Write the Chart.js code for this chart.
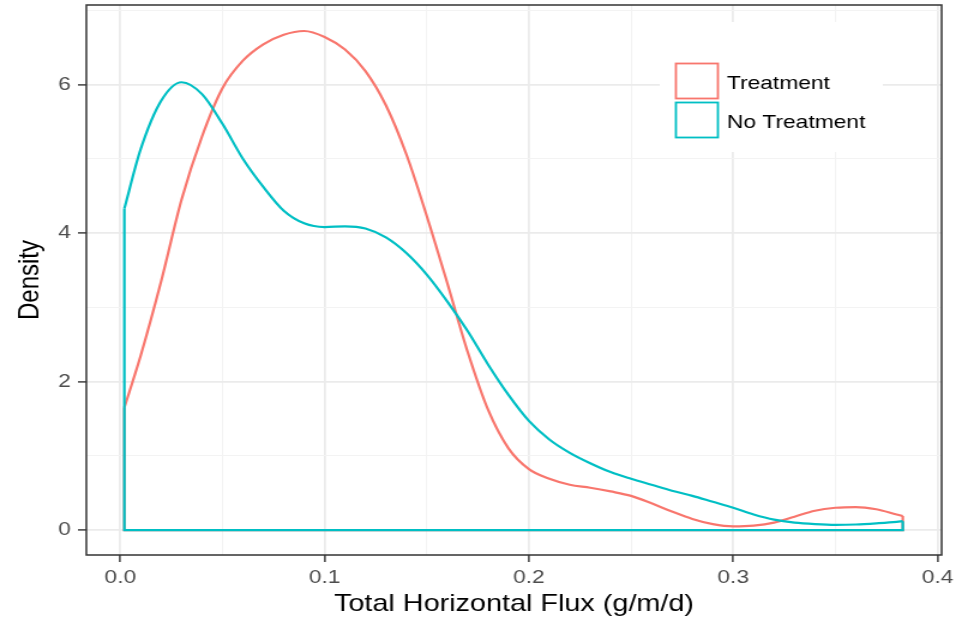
<!DOCTYPE html>
<html>
<head>
<meta charset="utf-8">
<title>Density</title>
<script src="https://cdn.jsdelivr.net/npm/chart.js@4.4.0/dist/chart.umd.min.js"></script>
<style>
  html, body { margin: 0; padding: 0; background: #fff; overflow: hidden; }
  /* the reference is stretched sideways, so draw narrow and scale it out */
  #wrap { width: 797px; height: 620px; transform: scaleX(1.1995); transform-origin: 0 0; }
</style>
</head>
<body>
<div id="wrap"><canvas id="density-chart" width="797" height="620"></canvas></div>
<script>
// evaluation points of the density curves (g/m/d)
let fluxX = [0.002, 0.01, 0.02, 0.03, 0.04, 0.05, 0.06, 0.07, 0.08, 0.09,
             0.10, 0.11, 0.12, 0.13, 0.14, 0.15, 0.16, 0.17, 0.18, 0.19,
             0.20, 0.21, 0.22, 0.23, 0.24, 0.25, 0.26, 0.27, 0.28, 0.29,
             0.30, 0.31, 0.32, 0.33, 0.34, 0.35, 0.36, 0.37, 0.38, 0.383];

let treatment = [1.65, 2.35, 3.35, 4.45, 5.30, 5.95, 6.32, 6.54, 6.67, 6.72,
                 6.64, 6.47, 6.18, 5.72, 5.06, 4.23, 3.33, 2.40, 1.62, 1.10,
                 0.82, 0.69, 0.61, 0.57, 0.52, 0.46, 0.36, 0.25, 0.15, 0.08,
                 0.05, 0.06, 0.10, 0.18, 0.26, 0.30, 0.31, 0.28, 0.21, 0.19];

let noTreatment = [4.33, 5.13, 5.78, 6.03, 5.87, 5.47, 5.00, 4.62, 4.30, 4.13,
                   4.08, 4.09, 4.06, 3.94, 3.73, 3.44, 3.08, 2.68, 2.23, 1.82,
                   1.47, 1.22, 1.04, 0.90, 0.78, 0.69, 0.61, 0.53, 0.46, 0.38,
                   0.30, 0.21, 0.14, 0.10, 0.08, 0.07, 0.075, 0.09, 0.11, 0.12];

let seriesNames = ["Treatment", "No Treatment"];
let seriesColors = ["#F8766D", "#00BFC4"];

let xMajor = [0, 0.1, 0.2, 0.3, 0.4];
let xMinor = [0.05, 0.15, 0.25, 0.35];
let yMajor = [0, 2, 4, 6];
let yMinor = [1, 3, 5, 7];

function curve(ys){
  return fluxX.map((x, i) => ({ x: x, y: ys[i] }));
}
// closing part of the density polygon: down to zero, along the base, back up
function outline(ys){
  let n = fluxX.length - 1;
  return [
    { x: fluxX[0], y: ys[0] }, { x: fluxX[0], y: 0 },
    { x: fluxX[n], y: 0 }, { x: fluxX[n], y: ys[n] }
  ];
}

let lineBase = { showLine: true, fill: false, pointRadius: 0, borderWidth: 2.2 };

// first dataset is drawn on top, so the teal ones come first
let datasets = [
  Object.assign({ label: seriesNames[1], data: curve(noTreatment), borderColor: seriesColors[1], cubicInterpolationMode: "monotone" }, lineBase),
  Object.assign({ label: seriesNames[1] + " base", data: outline(noTreatment), borderColor: seriesColors[1], tension: 0 }, lineBase),
  Object.assign({ label: seriesNames[0], data: curve(treatment), borderColor: seriesColors[0], cubicInterpolationMode: "monotone" }, lineBase),
  Object.assign({ label: seriesNames[0] + " base", data: outline(treatment), borderColor: seriesColors[0], tension: 0 }, lineBase)
];

let font = "'Liberation Sans', Arial, sans-serif";

function setTicks(major, minor){
  return function(scale){
    scale.ticks = major.concat(minor).sort((a, b) => a - b).map(v => ({ value: v }));
  };
}

let panelBorder = {
  id: "panelBorder",
  afterDatasetsDraw(chart){
    let a = chart.chartArea, c = chart.ctx;
    c.save();
    c.strokeStyle = "#333333";
    c.lineWidth = 1.5;
    c.strokeRect(a.left, a.top, a.right - a.left, a.bottom - a.top);
    c.restore();
  }
};

let legendBox = {
  id: "legendBox",
  afterDraw(chart){
    let c = chart.ctx;
    c.save();
    c.fillStyle = "#ffffff";
    c.fillRect(550, 22, 186, 130);
    c.lineWidth = 1.8;
    c.font = "19px " + font;
    c.textBaseline = "middle";
    for(let i = 0; i < seriesNames.length; i++){
      let top = 63.5 + i * 39;
      c.strokeStyle = seriesColors[i];
      c.strokeRect(563.5, top, 35, 35);
      c.fillStyle = "#000000";
      c.fillText(seriesNames[i], 606, top + 20);
    }
    c.restore();
  }
};

let ctx = document.getElementById("density-chart");
let chart = new Chart(ctx, {
  type: "scatter",
  data: { datasets: datasets },
  options: {
    responsive: false,
    animation: false,
    events: [],
    layout: { padding: { top: 5, right: 12, bottom: 0, left: 0 } },
    plugins: {
      legend: { display: false },
      tooltip: { enabled: false }
    },
    scales: {
      x: {
        type: "linear",
        min: -0.0166,
        max: 0.402,
        afterBuildTicks: setTicks(xMajor, xMinor),
        afterFit: s => { s.height = 65; s.paddingLeft = 0; s.paddingRight = 0; },
        border: { display: false },
        grid: {
          color: c => xMajor.includes(c.tick.value) ? "#EBEBEB" : "#F3F3F3",
          lineWidth: c => xMajor.includes(c.tick.value) ? 1.8 : 1.1,
          tickColor: c => xMajor.includes(c.tick.value) ? "#333333" : "rgba(0,0,0,0)",
          tickLength: 7,
          tickWidth: 1.4
        },
        ticks: {
          autoSkip: false,
          maxRotation: 0,
          padding: 4,
          color: "#4D4D4D",
          font: { family: font, size: 19 },
          callback: v => xMajor.includes(v) ? v.toFixed(1) : ""
        },
        title: {
          display: true,
          text: "Total Horizontal Flux (g/m/d)",
          color: "#000000",
          font: { family: font, size: 24 },
          padding: { top: 0, bottom: 1 }
        }
      },
      y: {
        type: "linear",
        min: -0.336,
        max: 7.07,
        afterBuildTicks: setTicks(yMajor, yMinor),
        afterFit: s => { s.width = 72; s.paddingTop = 0; s.paddingBottom = 0; },
        border: { display: false },
        grid: {
          color: c => yMajor.includes(c.tick.value) ? "#EBEBEB" : "#F3F3F3",
          lineWidth: c => yMajor.includes(c.tick.value) ? 1.8 : 1.1,
          tickColor: c => yMajor.includes(c.tick.value) ? "#333333" : "rgba(0,0,0,0)",
          tickLength: 7,
          tickWidth: 1.4
        },
        ticks: {
          autoSkip: false,
          padding: 6,
          color: "#4D4D4D",
          font: { family: font, size: 19 },
          callback: v => yMajor.includes(v) ? String(v) : ""
        },
        title: {
          display: true,
          text: "Density",
          color: "#000000",
          font: { family: font, size: 24 },
          padding: { top: 11, bottom: 0 }
        }
      }
    }
  },
  plugins: [panelBorder, legendBox]
});
</script>
</body>
</html>
